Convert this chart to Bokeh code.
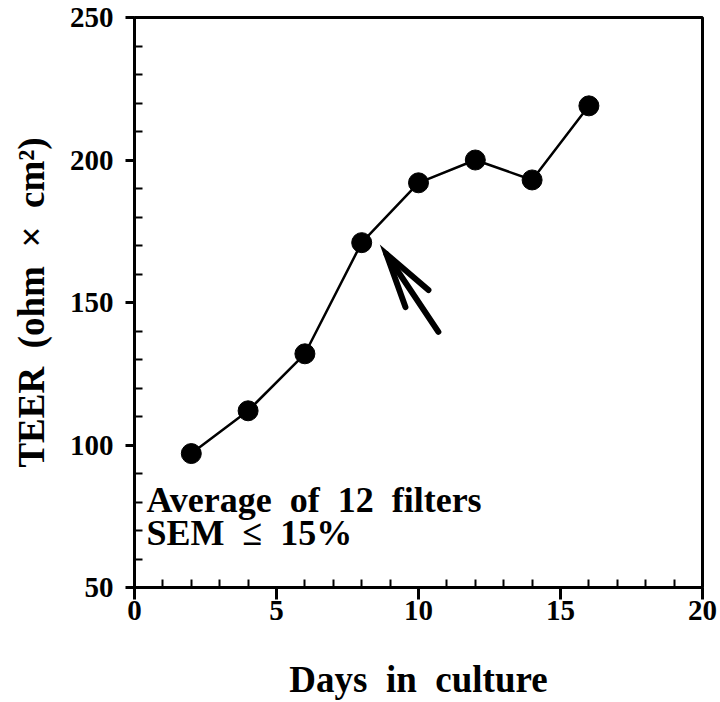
from bokeh.plotting import figure
from bokeh.models import Range1d, Label, FixedTicker
from bokeh.embed import file_html
from bokeh.resources import INLINE

# Data
days = [2, 4, 6, 8, 10, 12, 14, 16]
teer = [97, 112, 132, 171, 192, 200, 193, 219]

x_ticks = [0, 5, 10, 15, 20]
y_ticks = [50, 100, 150, 200, 250]
x_minor = [v for v in range(0, 21) if v % 5 != 0]
y_minor = [v for v in range(50, 251, 10) if v % 50 != 0]

# arrow annotation (data coords): shaft tail -> tip, and two head wings
arrow_tail = (10.7, 139.7)
arrow_tip = (8.87, 167.0)
arrow_wing1 = (10.35, 154.4)
arrow_wing2 = (9.54, 148.4)

note_line1 = "Average\u2002of\u200212\u2002filters"
note_line2 = "SEM\u2002\u2264\u200215%"

FONT = "Liberation Serif"

p = figure(width=720, height=702, output_backend="svg", toolbar_location=None,
           x_range=Range1d(0, 20), y_range=Range1d(50, 250),
           min_border_left=134, min_border_right=18, min_border_top=17,
           min_border_bottom=114, background_fill_color="white")

p.xgrid.visible = False
p.ygrid.visible = False
p.outline_line_color = "black"
p.outline_line_width = 3

p.xaxis.ticker = FixedTicker(ticks=x_ticks, minor_ticks=x_minor)
p.yaxis.ticker = FixedTicker(ticks=y_ticks, minor_ticks=y_minor)

for ax in (p.xaxis, p.yaxis):
    ax.axis_line_width = 3
    ax.axis_line_color = "black"
    ax.major_tick_line_width = 3
    ax.minor_tick_line_width = 2
    ax.major_tick_in = 0
    ax.minor_tick_in = 8
    ax.minor_tick_out = 0
    ax.major_label_text_font = FONT
    ax.major_label_text_font_style = "bold"
    ax.major_label_text_font_size = "29px"
    ax.major_label_text_color = "black"
    ax.axis_label_text_font = FONT
    ax.axis_label_text_font_style = "bold"
    ax.axis_label_text_font_size = "37px"
    ax.axis_label_text_color = "black"

p.xaxis.major_tick_out = 12
p.yaxis.major_tick_out = 9
p.xaxis.major_label_standoff = 1
p.yaxis.major_label_standoff = 12
p.xaxis.axis_label = "Days\u2002in\u2002culture"
p.yaxis.axis_label = "TEER\u2002(ohm\u2002\u00d7\u2002cm\u00b2)"
p.xaxis.axis_label_standoff = 36
p.yaxis.axis_label_standoff = 15

p.line(days, teer, line_color="black", line_width=2.5)
p.scatter(days, teer, size=20, fill_color="black", line_color="black")

p.multi_line(xs=[[arrow_tail[0], arrow_tip[0]],
                 [arrow_wing1[0], arrow_tip[0], arrow_wing2[0]]],
             ys=[[arrow_tail[1], arrow_tip[1]],
                 [arrow_wing1[1], arrow_tip[1], arrow_wing2[1]]],
             line_color="black", line_width=6, line_cap="round", line_join="miter")

p.add_layout(Label(x=0.42, y=80.6, text=note_line1, text_font=FONT,
                   text_font_style="bold", text_font_size="36px",
                   text_color="black", text_baseline="alphabetic"))
p.add_layout(Label(x=0.42, y=69.0, text=note_line2, text_font=FONT,
                   text_font_style="bold", text_font_size="36px",
                   text_color="black", text_baseline="alphabetic"))

open("out.html", "w").write(file_html(p, INLINE))
